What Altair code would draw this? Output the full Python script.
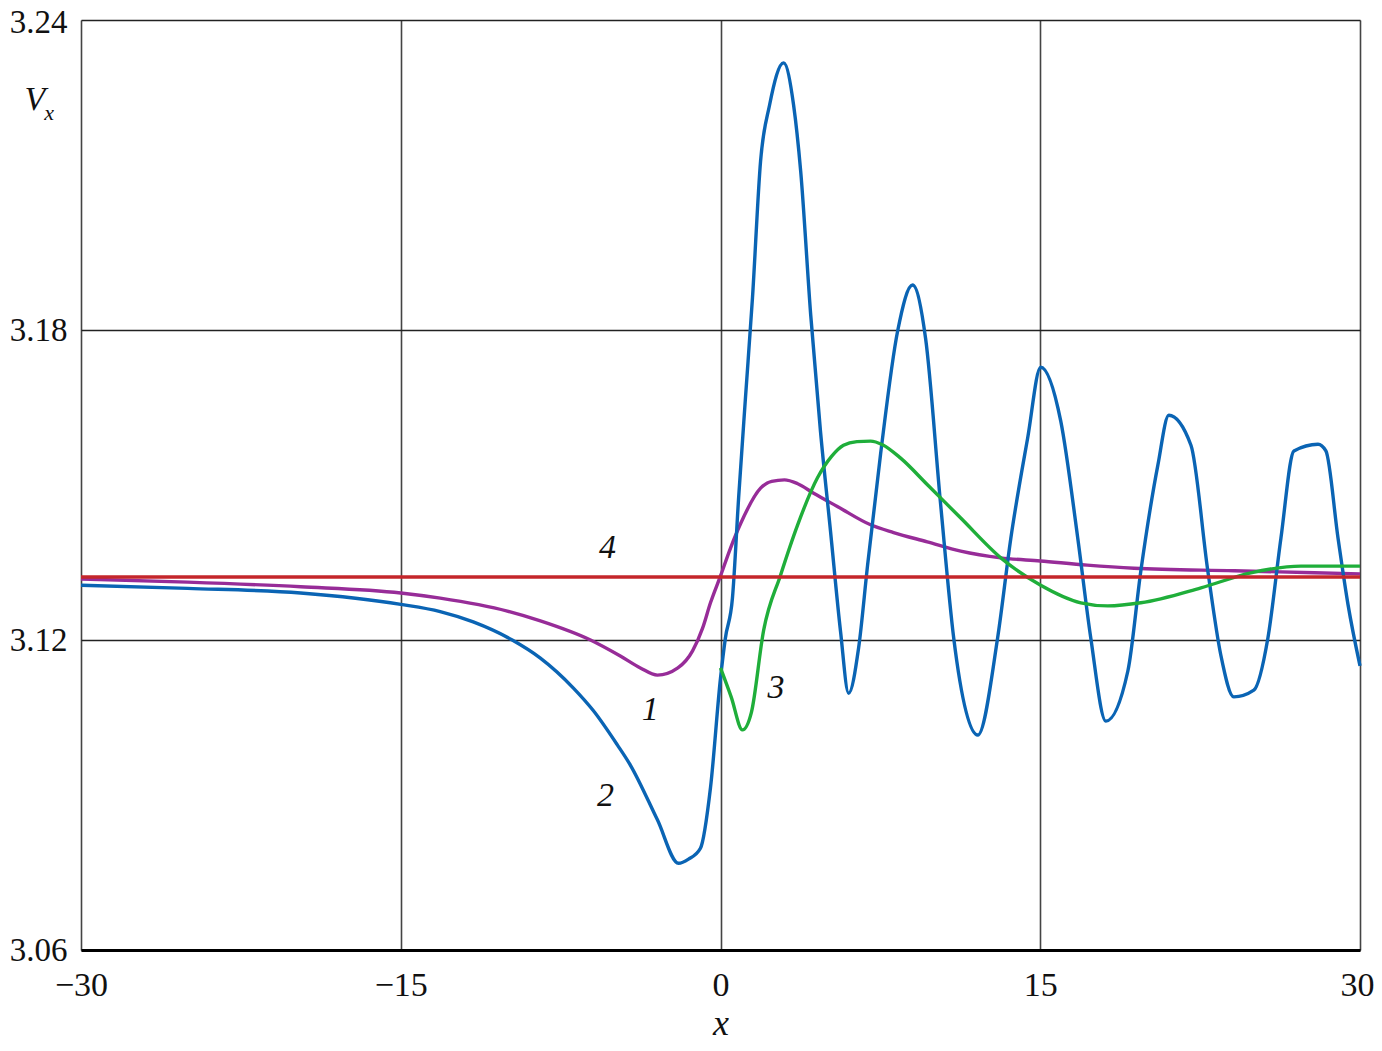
import altair as alt
import pandas as pd

# Curve 1 (purple)
x1 = [-30, -25, -19.7, -15, -13.15, -10.0, -8.45, -6.1, -4.7, -3.76, -2.96, -2.0, -1.31, -0.84,
      -0.47, 0, 0.47, 0.94, 1.88, 2.4, 3.0, 3.6, 4.37, 5.5, 7.04, 8.12, 9.7, 11.27, 13.15, 15.0, 17.2,
      19.4, 24.1, 30]
v1 = [3.1318, 3.1312, 3.1303, 3.1291, 3.1281, 3.1256, 3.1237, 3.1200, 3.1169, 3.1146, 3.1132,
      3.1146, 3.1179, 3.1223, 3.1272, 3.1324, 3.1378, 3.1425, 3.1494, 3.1507, 3.1510, 3.1503,
      3.1484, 3.1458, 3.1423, 3.1408, 3.1390, 3.1372, 3.1359, 3.1353, 3.1345, 3.1339, 3.1334, 3.1328]

# Curve 2 (blue)
x2 = [-30, -25, -19.7, -15, -13.15, -11.6, -9.77, -8.45, -6.9, -5.96, -4.84, -4.23, -2.96, -1.97,
      -1.5, -0.94, -0.47, 0, 0.23, 0.56, 0.85, 1.17, 1.5, 1.88, 2.3, 2.96, 3.43, 3.76, 4.23, 4.69,
      5.16, 5.63, 6.01, 6.48, 6.9, 7.51, 8.31, 9.01, 9.62, 10.33, 10.94, 12.07, 13.0, 13.62, 14.41,
      15.02, 15.96, 16.76, 17.37, 18.08, 19.11, 19.72, 20.52, 21.03, 22.07, 22.86, 23.47, 24.08,
      25.02, 25.68, 26.29, 26.9, 28.03, 28.4, 28.97, 29.44, 30]
v2 = [3.1306, 3.1300, 3.1291, 3.1269, 3.1255, 3.1235, 3.1200, 3.1165, 3.1107, 3.1063, 3.0997,
      3.0958, 3.0852, 3.0768, 3.0776, 3.0797, 3.0914, 3.1126, 3.1204, 3.1281, 3.1475, 3.1668,
      3.1862, 3.2127, 3.2235, 3.2317, 3.2235, 3.2108, 3.1830, 3.1604, 3.1411, 3.1217, 3.1097,
      3.1185, 3.1345, 3.1560, 3.1798, 3.1887, 3.1784, 3.1461, 3.1204, 3.1016, 3.1204, 3.1397,
      3.1591, 3.1728, 3.1624, 3.1397, 3.1204, 3.1043, 3.1140, 3.1334, 3.1539, 3.1635, 3.1577,
      3.1334, 3.1171, 3.1090, 3.1103, 3.1204, 3.1397, 3.1566, 3.1579, 3.1566, 3.1397, 3.1268, 3.1150]

# Curve 3 (green)
x3 = [0, 0.5, 1.03, 1.45, 2.02, 2.82, 3.62, 4.55, 5.2, 5.77, 6.4, 7.04, 7.6, 8.45, 9.72, 11.27,
      13.15, 15.02, 16.9, 18.17, 19.72, 22.54, 24.88, 27.23, 30]
v3 = [3.1146, 3.1090, 3.1026, 3.1060, 3.1218, 3.1326, 3.1423, 3.1514, 3.1555, 3.1577, 3.1584,
      3.1585, 3.1578, 3.1552, 3.1500, 3.1436, 3.1359, 3.1306, 3.1272, 3.1266, 3.1272, 3.1301,
      3.1330, 3.1343, 3.1343]

# Curve 4 (red, constant)
x4 = [-30, 30]
v4 = [3.1322, 3.1322]

series_names = ["1", "2", "3", "4"]
series_colors = ["#972c98", "#0a64b4", "#1fae3a", "#c4262b"]

# Curve labels
lab_text = ["4", "1", "2", "3"]
lab_x = [-5.3, -3.3, -5.4, 2.6]
lab_v = [3.1378, 3.1065, 3.0898, 3.1107]

x_ticks = [-30, -15, 0, 15, 30]
y_ticks = [3.06, 3.12, 3.18, 3.24]

rows = []
for name, xs, vs in zip(series_names, [x1, x2, x3, x4], [v1, v2, v3, v4]):
    for i, (a, b) in enumerate(zip(xs, vs)):
        rows.append({"series": name, "x": a, "v": b, "order": i})
df = pd.DataFrame(rows)
labels_df = pd.DataFrame({"t": lab_text, "x": lab_x, "v": lab_v})

FONT = "Liberation Serif"

xscale = alt.Scale(domain=[-30, 30], nice=False, zero=False)
yscale = alt.Scale(domain=[3.06, 3.24], nice=False, zero=False)

lines = alt.Chart(df).mark_line(strokeWidth=3.4, interpolate="monotone").encode(
    x=alt.X("x:Q", scale=xscale,
            axis=alt.Axis(values=x_ticks, title="x", grid=True, gridColor="#444444", gridWidth=1.6,
                          ticks=False, domain=True, domainColor="#000000", domainWidth=3,
                          labelFont=FONT, labelFontSize=34, labelColor="#111111", labelPadding=18,
                          labelOffset={"condition": {"test": "datum.value == 30", "value": -3},
                                       "value": 0},
                          labelFlush=False, titleFont=FONT, titleFontSize=36, titleFontStyle="italic",
                          titleFontWeight="normal", titleColor="#111111", titlePadding=4)),
    y=alt.Y("v:Q", scale=yscale,
            axis=alt.Axis(values=y_ticks, format=".2f", title=None, grid=True, gridColor="#222222",
                          gridWidth=1.6, ticks=False, domain=False, labelFont=FONT, labelFontSize=33,
                          labelOffset={"condition": {"test": "datum.value > 3.2", "value": 2},
                                       "value": 0},
                          labelColor="#111111", labelPadding=14, labelFlush=False)),
    color=alt.Color("series:N", scale=alt.Scale(domain=series_names, range=series_colors), legend=None),
    order="order:Q",
    detail="series:N",
)

curve_labels = alt.Chart(labels_df).mark_text(font=FONT, fontSize=34, fontStyle="italic",
                                              color="#111111").encode(
    x=alt.X("x:Q", scale=xscale), y=alt.Y("v:Q", scale=yscale), text="t:N")

vx_df = pd.DataFrame({"t": ["V"]})
vlabel = alt.Chart(vx_df).mark_text(font=FONT, fontSize=34, fontStyle="italic", color="#111111",
                                    align="center", baseline="middle").encode(
    x=alt.value(-46), y=alt.value(80), text="t:N")
sub_df = pd.DataFrame({"t": ["x"]})
sublabel = alt.Chart(sub_df).mark_text(font=FONT, fontSize=22, fontStyle="italic", color="#111111",
                                       align="center", baseline="middle").encode(
    x=alt.value(-32), y=alt.value(93), text="t:N")

chart = alt.layer(lines, curve_labels, vlabel, sublabel).properties(
    width=1279, height=930,
    autosize=alt.AutoSizeParams(type="none"),
    padding={"left": 73, "top": 12, "right": 14, "bottom": 100},
).configure_view(stroke="#000000", strokeWidth=2).configure(background="white")

chart.save("out.html", embed_options={"renderer": "svg", "actions": False})
